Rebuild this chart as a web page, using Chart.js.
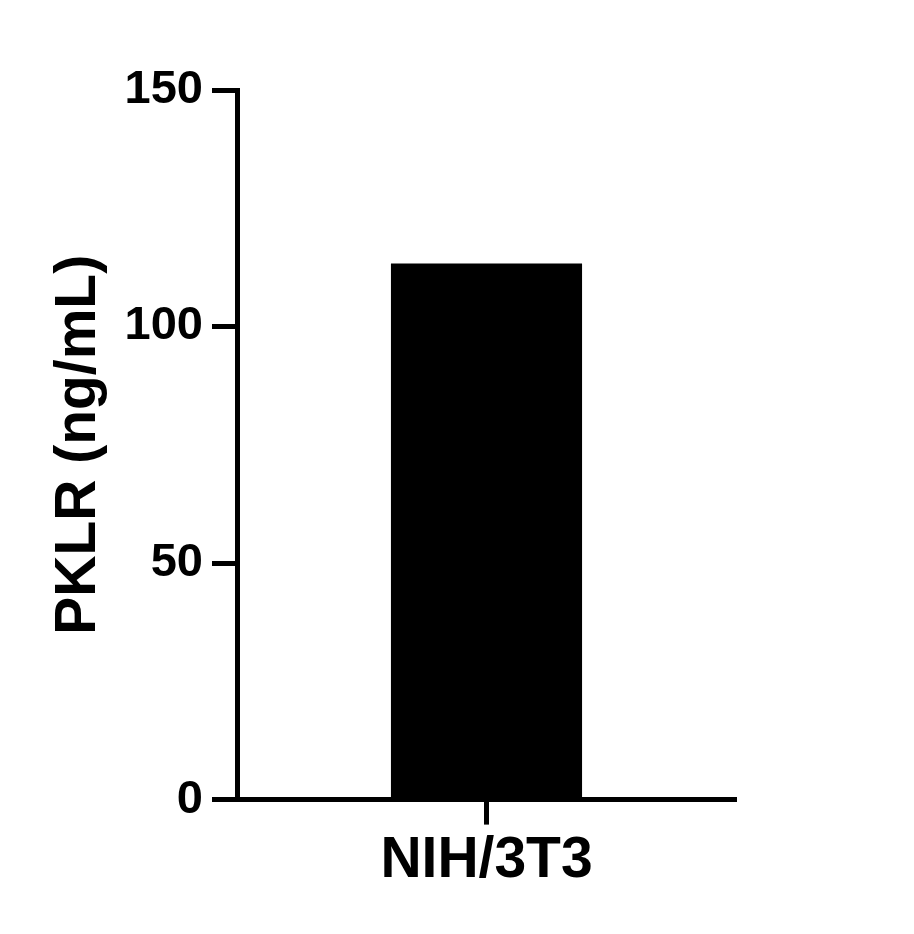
<!DOCTYPE html>
<html><head><meta charset="utf-8">
<script src="https://cdn.jsdelivr.net/npm/chart.js@4"></script>
<style>html,body{margin:0;padding:0;background:#fff}#wrap{width:914px;height:934px}</style>
</head><body><div id="wrap"><canvas id="c"></canvas></div>
<script>
const categories=['NIH/3T3'];
const values=[113.3];
const yTicks=[0,50,100,150];
const FONT='"Liberation Sans", Arial, sans-serif';

new Chart(document.getElementById('c'),{type:'bar',
  data:{labels:categories,datasets:[{label:'PKLR',data:values,backgroundColor:'#000',borderWidth:0,
    categoryPercentage:1,barPercentage:0.383}]},
  options:{responsive:true,maintainAspectRatio:false,animation:false,
    layout:{padding:{left:45,right:178,top:90,bottom:37}},
    plugins:{legend:{display:false},tooltip:{enabled:false}},
    scales:{
      y:{min:0,max:150,
        afterBuildTicks:s=>{s.ticks=yTicks.map(v=>({value:v}))},
        afterFit:s=>{s.width=192},
        title:{display:true,text:'PKLR (ng/mL)',color:'#000',font:{family:FONT,size:57,weight:'bold'},padding:{top:0,bottom:0}},
        grid:{drawOnChartArea:false,tickLength:25,tickWidth:5,tickColor:'#000'},
        border:{display:true,color:'#000',width:5},
        ticks:{color:'#000',padding:9,font:{family:FONT,size:47,weight:'bold'}}},
      x:{grid:{offset:false,drawOnChartArea:false,tickLength:25,tickWidth:5,tickColor:'#000'},
        border:{display:true,color:'#000',width:5},
        ticks:{color:'#000',padding:2,font:{family:FONT,size:57,weight:'bold'}}}
    }}
});
</script></body></html>
